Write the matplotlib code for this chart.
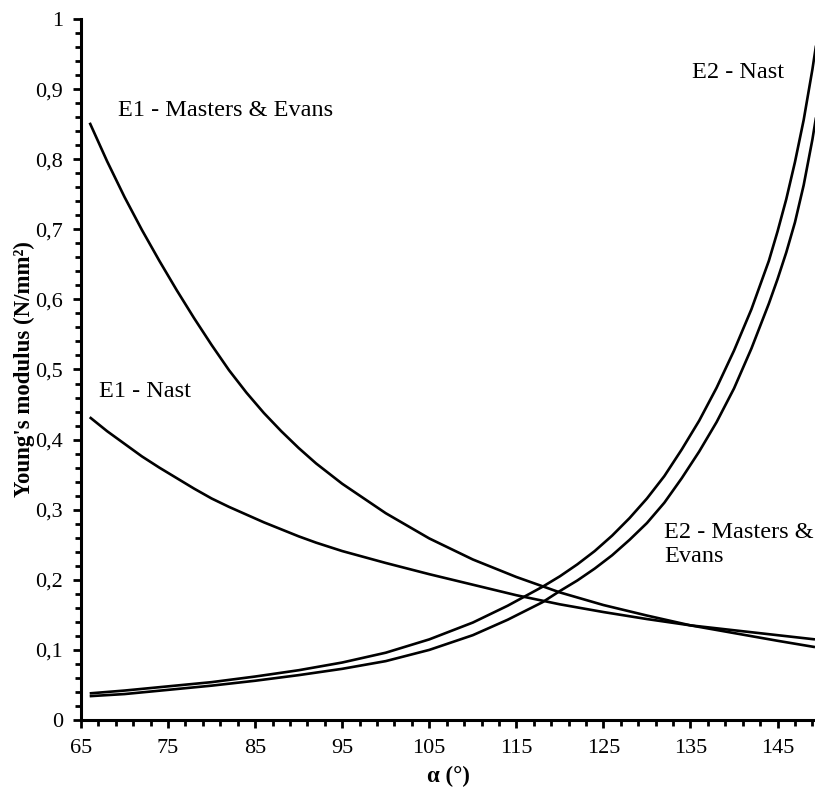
import matplotlib
matplotlib.use("Agg")
import matplotlib.pyplot as plt
from matplotlib.ticker import MultipleLocator, FuncFormatter

plt.rcParams['font.family'] = ['Liberation Serif', 'DejaVu Serif']

# E1 - Masters & Evans
x_e1_me = [66, 68, 70, 72, 74, 76, 78, 80, 82, 84, 86, 88, 90, 92, 95, 100, 105, 110,
           115, 120, 125, 130, 135, 140, 145, 149.3]
y_e1_me = [0.852, 0.797, 0.746, 0.699, 0.655, 0.613, 0.573, 0.535, 0.499, 0.467, 0.438,
           0.412, 0.388, 0.366, 0.337, 0.295, 0.259, 0.229, 0.204, 0.182, 0.164, 0.149,
           0.135, 0.124, 0.113, 0.104]

# E1 - Nast
x_e1_n = [66, 68, 70, 72, 74, 76, 78, 80, 82, 84, 86, 88, 90, 92, 95, 100, 105, 110,
          115, 120, 125, 130, 135, 140, 145, 149.3]
y_e1_n = [0.432, 0.412, 0.394, 0.376, 0.360, 0.345, 0.330, 0.316, 0.304, 0.293, 0.282,
          0.272, 0.262, 0.253, 0.241, 0.224, 0.208, 0.193, 0.178, 0.165, 0.154, 0.144,
          0.135, 0.128, 0.121, 0.115]

# E2 - Nast
x_e2_n = [66, 70, 75, 80, 85, 90, 95, 100, 105, 110, 114, 118, 120, 122, 124, 126, 128,
          130, 132, 134, 136, 138, 140, 142, 144, 145, 146, 147, 148, 149, 150]
y_e2_n = [0.038, 0.042, 0.048, 0.054, 0.062, 0.071, 0.082, 0.096, 0.115, 0.139, 0.163,
          0.190, 0.205, 0.222, 0.241, 0.263, 0.288, 0.316, 0.348, 0.386, 0.427, 0.474,
          0.527, 0.586, 0.655, 0.697, 0.743, 0.796, 0.856, 0.928, 1.01]

# E2 - Masters & Evans
x_e2_me = [66, 70, 75, 80, 85, 90, 95, 100, 105, 110, 114, 118, 120, 122, 124, 126, 128,
           130, 132, 134, 136, 138, 140, 142, 143, 144, 145, 146, 147, 148, 149, 149.5, 150]
y_e2_me = [0.034, 0.037, 0.043, 0.049, 0.056, 0.064, 0.073, 0.084, 0.100, 0.121, 0.143,
           0.168, 0.184, 0.199, 0.216, 0.235, 0.257, 0.281, 0.310, 0.345, 0.383, 0.425,
           0.473, 0.530, 0.562, 0.594, 0.629, 0.667, 0.710, 0.763, 0.828, 0.866, 0.91]

fig = plt.figure(figsize=(8.15, 7.87), dpi=100)
ax = fig.add_axes([81 / 815, 67 / 787, 1 - 81 / 815, 701 / 787])

for xs, ys in [(x_e1_me, y_e1_me), (x_e1_n, y_e1_n), (x_e2_n, y_e2_n), (x_e2_me, y_e2_me)]:
    ax.plot(xs, ys, color='black', lw=1.9, solid_capstyle='butt', solid_joinstyle='round')

ax.set_xlim(65, 149.3)
ax.set_ylim(0, 1)

ax.spines['top'].set_visible(False)
ax.spines['right'].set_visible(False)
ax.spines['left'].set_linewidth(2.2)
ax.spines['bottom'].set_linewidth(2.2)

ax.xaxis.set_major_locator(MultipleLocator(10, offset=5))
ax.xaxis.set_minor_locator(MultipleLocator(2, offset=1))
ax.yaxis.set_major_locator(MultipleLocator(0.1))
ax.yaxis.set_minor_locator(MultipleLocator(0.02))
ax.yaxis.set_major_formatter(FuncFormatter(
    lambda v, p: '0' if abs(v) < 1e-9 else ('1' if abs(v - 1) < 1e-9 else f'{v:.1f}'.replace('.', ','))))
ax.tick_params(which='major', length=6, width=2, labelsize=16)
ax.tick_params(axis='y', which='major', pad=7)
ax.tick_params(axis='x', which='major', pad=8)
ax.tick_params(which='minor', length=4, width=2)

ax.set_xlabel('α (°)', fontsize=16.5, fontweight='bold', labelpad=5)
ax.set_ylabel("Young's modulus (N/mm²)", fontsize=16.5, fontweight='bold', labelpad=0)

ax.text(69.2, 0.869, 'E1 - Masters & Evans', fontsize=17.5, va='center', ha='left')
ax.text(67.1, 0.468, 'E1 - Nast', fontsize=17.5, va='center', ha='left')
ax.text(135.2, 0.924, 'E2 - Nast', fontsize=17.5, va='center', ha='left')
ax.text(132.0, 0.283, 'E2 - Masters &\nEvans', fontsize=17.5, va='top', ha='left',
        linespacing=1.2)

fig.savefig('out.png', dpi=100)
